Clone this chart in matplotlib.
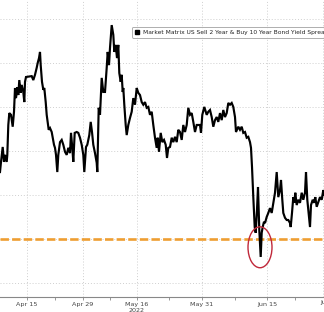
import numpy as np
import matplotlib
matplotlib.use("Agg")
import matplotlib.pyplot as plt
from matplotlib.patches import Ellipse
from matplotlib.lines import Line2D

# time index (intraday observations) and 2s10s spread (bp)
t_a = [0, 1, 2.7, 4, 5, 6.7, 7.3, 8.3, 9.3, 11, 12.7, 14, 15, 16, 17.3, 18.3, 19.3, 20.7, 21.7, 23.3,
       24.3, 25, 26, 31.7, 33.3, 35, 36.7, 37.7, 39, 40, 40.7, 42, 43.3, 44.3, 45.7, 46.7, 47.7, 48.7, 50, 51.7,
       52.7, 54, 55, 56, 57.3, 58.3, 60, 61.7, 63.3, 65, 66.7, 68.3, 70, 71, 72.3, 73.3, 74.7, 76.7, 78.3, 80,
       81.7, 83.3, 84.3, 86, 87.3, 89.3, 90.7, 92, 93.3, 95, 96.7, 97.3, 98.7, 100, 101.7, 103.3]
v_a = [15.2, 17.5, 20.9, 17.5, 19.1, 17.5, 19.1, 25.9, 28.6, 28.2, 25.5, 28.9, 34.3, 32.0, 34.5, 32.7, 36.1, 33.2, 35.0, 33.4,
       31.1, 35.7, 36.8, 37.0, 36.1, 37.3, 38.9, 40.0, 41.1, 42.5, 39.5, 35.7, 33.9, 34.3, 31.1, 28.2, 26.4, 24.8, 25.2, 24.3,
       23.0, 21.4, 20.7, 19.1, 15.2, 19.1, 22.0, 22.5, 21.4, 19.8, 19.1, 20.7, 19.5, 24.1, 20.7, 17.5, 24.1, 24.3, 24.1, 23.0,
       21.4, 19.1, 15.2, 20.9, 21.4, 23.6, 26.6, 24.3, 21.4, 19.5, 17.3, 15.2, 29.8, 28.2, 36.6, 33.4]
t_b = [105, 106.7, 107.7, 109, 110, 111.7, 113.3, 114.3, 115.7, 117, 118.3, 119.3, 120.7, 121.7, 122.7, 123.3, 124.3,
       125.7, 126.7, 128.3, 130, 131.7, 133.3, 135, 136.7, 138.3, 140, 141.7, 143.3, 145, 146.7, 148.3, 150, 151.7,
       153.3, 155, 156.7, 157.7, 159, 160.7, 162.3, 164, 165.7, 167, 168.3, 170, 171.7, 173.3, 175, 176.7, 178.3,
       180, 181.7, 183.3, 185, 186.7, 188.3, 190, 191.7, 193.3, 195, 196.7, 200, 201, 202.3, 204.3, 206.7, 208.3, 210]
v_b = [33.4, 38.9, 42.5, 39.5, 43.4, 48.6, 46.4, 42.5, 44.1, 41.1, 44.1, 37.7, 35.7, 37.3, 33.4, 34.3, 30.5,
       25.9, 23.6, 25.9, 27.5, 28.9, 32.0, 30.5, 34.3, 33.2, 32.7, 31.1, 30.5, 31.1, 29.8, 30.0, 28.2, 28.9,
       25.9, 23.0, 20.7, 23.0, 19.8, 24.1, 22.0, 22.5, 21.4, 18.4, 20.7, 20.9, 23.0, 22.0, 23.2, 22.0, 24.8,
       24.3, 22.5, 25.9, 24.3, 25.9, 29.8, 28.2, 28.6, 26.6, 24.3, 25.9, 25.9, 24.1, 28.2, 30.0, 28.2, 28.9, 29.3]
t_c = [211.7, 213.3, 215, 216.7, 218.3, 220, 221.7, 223.3, 225, 226.7, 228.3, 230, 231.7, 233.3, 235, 236, 238.3,
       240, 241.7, 243.3, 245, 246.7, 248.3, 250, 251, 252, 253.3, 254.7, 255.7, 257, 258, 259.3, 260.7, 261.7,
       262.7, 264, 265, 266.7, 268.3, 270, 271.7, 273.3, 275, 276.7, 278.3, 280, 281, 282.3, 283.3, 285, 286.7,
       288.3, 290, 290.7, 292, 293.3, 294.3, 295.3, 296.7, 298.3, 300, 301.7, 303.3, 305, 306, 307.3, 308.3, 310,
       311, 312.7, 314, 315.3, 316.7, 318.3, 320, 321.7, 323.3, 324]
v_c = [27.7, 25.5, 27.0, 27.7, 26.6, 28.6, 27.0, 29.3, 27.7, 28.6, 30.9, 30.5, 30.9, 30.0, 27.7, 24.3, 25.5,
       24.8, 25.5, 24.1, 24.3, 23.0, 23.2, 22.0, 20.7, 16.4, 9.5, 2.7, 1.4, 6.6, 11.8, 2.0, -4.1, 1.4,
       2.7, 3.9, 3.6, 5.0, 5.9, 7.0, 5.9, 8.2, 10.5, 15.2, 9.5, 11.1, 13.4, 8.9, 5.9, 4.8, 4.3,
       4.3, 3.6, 2.7, 5.9, 9.5, 8.2, 10.5, 7.7, 8.9, 8.2, 10.5, 8.9, 10.5, 15.2, 8.9, 6.6, 2.7,
       7.7, 8.9, 8.2, 9.5, 7.3, 8.4, 9.5, 8.9, 11.1, 10.0]

tick_pos = [27, 83, 137, 202, 267]
tick_labels = ["Apr 15", "Apr 29", "May 16", "May 31", "Jun 15"]
extra_tick_pos = 330
extra_tick_label = "Jun 29"
minor_pos = [55, 110, 169, 235, 295]
year_label = "2022"
zero_level = 0
grid_levels = [-10, 0, 10, 20, 30, 40, 50]
legend_label = "Market Matrix US Sell 2 Year & Buy 10 Year Bond Yield Spread"
circle_center = (260, -1.9)
circle_size = (24, 9.3)

t = np.array(t_a + t_b + t_c)
v = np.array(v_a + v_b + v_c)

fig = plt.figure(figsize=(3.24, 3.12), dpi=100)
ax = fig.add_axes([0, 15 / 312, 1, 297 / 312])
ax.set_xlim(0, 324)
ax.set_ylim(-13.2, 54.3)

grid_kw = dict(color="#cfcfcf", lw=0.7, ls=(0, (1, 2)), zorder=1)
for g in grid_levels:
    ax.axhline(g, **grid_kw)
for p in tick_pos + [323]:
    ax.axvline(p, **grid_kw)

zl = ax.axhline(zero_level, color="#ee9e32", lw=1.9, zorder=2)
zl.set_dashes([3.2, 1.2])

ax.plot(t, v, color="black", lw=1.55, zorder=3, solid_joinstyle="miter")

ax.add_patch(Ellipse(circle_center, circle_size[0], circle_size[1], fill=False,
                     edgecolor="#c0283a", lw=1.0, zorder=4))

for s in ["top", "left", "right"]:
    ax.spines[s].set_visible(False)
ax.spines["bottom"].set_color("#888888")
ax.spines["bottom"].set_linewidth(0.8)
ax.set_yticks([])
ax.set_xticks(tick_pos)
ax.set_xticklabels(tick_labels)
ax.set_xticks(minor_pos, minor=True)
ax.tick_params(axis="x", which="both", length=2, width=0.6, color="#888888",
               labelsize=4.6, labelcolor="#444444", pad=1.5)
ax.text(extra_tick_pos, -13.2 - 0.75, extra_tick_label, ha="center", va="top", fontsize=4.6,
        color="#444444", clip_on=False)
ax.text(tick_pos[2], -13.2 - 2.6, year_label, ha="center", va="top", fontsize=4.6,
        color="#444444", clip_on=False)

handle = Line2D([], [], color="black", marker="s", ls="none", markersize=3.4)
leg = ax.legend([handle], [legend_label], loc="upper left", bbox_to_anchor=(132 / 324, 1 - 27 / 297),
                fontsize=4.3, frameon=True, fancybox=True, handlelength=0.9, handletextpad=0.5,
                borderpad=0.45, borderaxespad=0)
leg.get_frame().set_edgecolor("#999999")
leg.get_frame().set_linewidth(0.7)
for txt in leg.get_texts():
    txt.set_color("#222222")

fig.savefig("out.png", dpi=100)
